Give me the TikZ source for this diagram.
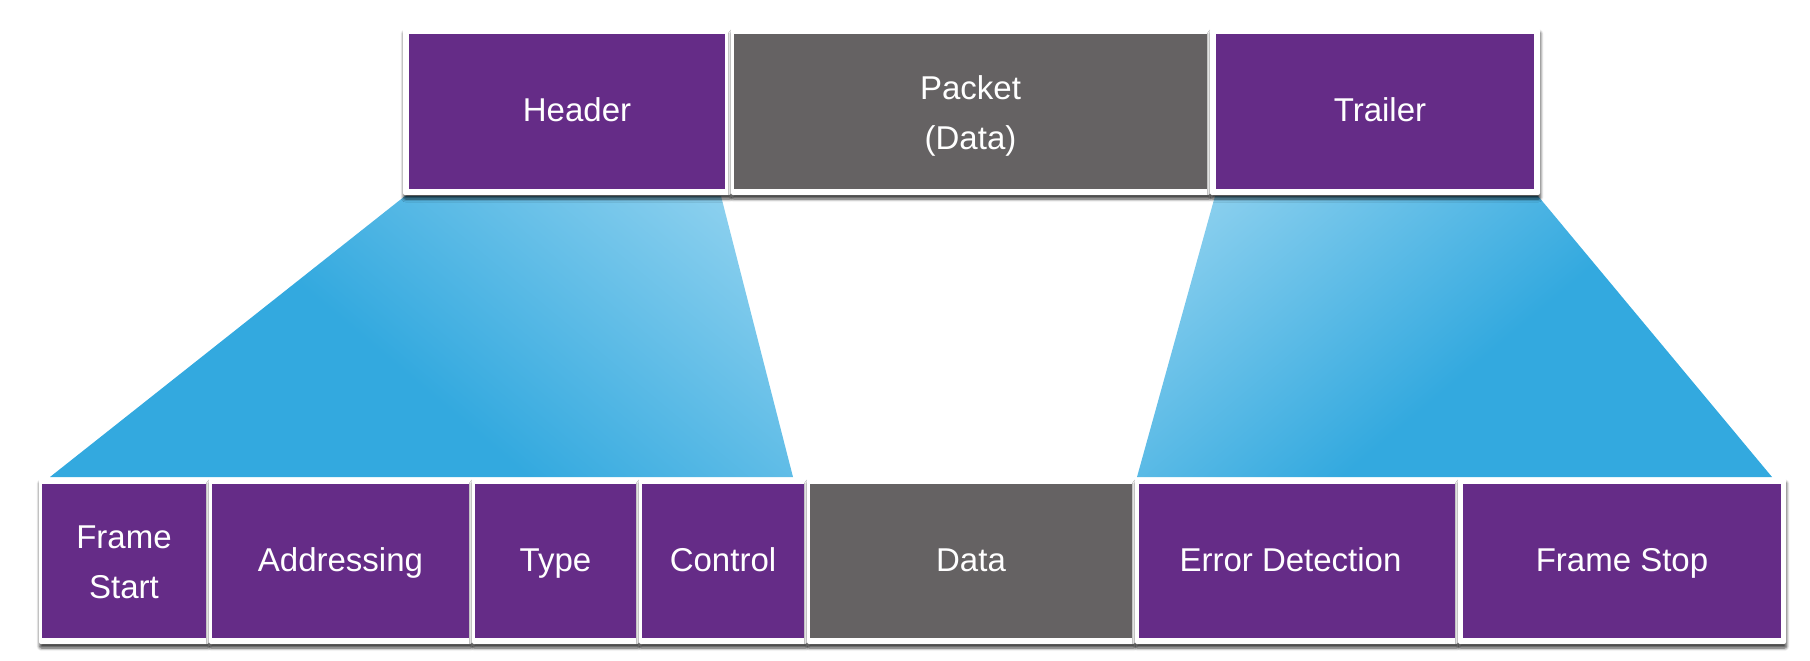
\documentclass[tikz,border=0pt]{standalone}
\usepackage{fontspec}
\setmainfont{Liberation Sans}
\usetikzlibrary{shadows,shadows.blur}
\definecolor{fpurple}{HTML}{652C87}
\definecolor{fgray}{HTML}{656263}
\definecolor{fblue}{HTML}{33A9DF}
\definecolor{flight}{HTML}{95D4F0}
\pgfdeclareverticalshading{fanshade}{100bp}{color(0bp)=(fblue); color(46bp)=(fblue); color(84bp)=(flight); color(100bp)=(flight)}
\tikzset{
  fbox/.style={fill=white, draw=none, rounded corners=2pt, inner sep=0pt,
    text=white, align=center, font=\fontsize{33}{50}\selectfont,
    execute at begin node=\strut, execute at end node=\strut,
    blur shadow={shadow xshift=0.5pt, shadow yshift=-4pt, shadow blur radius=3pt,
      shadow blur steps=6, shadow opacity=75}},
  inset/.style 2 args={path picture={\fill[#1, sharp corners]
      ([shift={(#2,-6pt)}]path picture bounding box.north west) rectangle
      ([shift={(-#2,6pt)}]path picture bounding box.south east);}},
  toprow/.style={minimum height=167pt},
  botrow/.style={minimum height=166pt},
}
\newcommand{\lowerfirst}{\rule{0pt}{40.5pt}}
\begin{document}
\begin{tikzpicture}[x=1pt,y=-1pt]
\useasboundingbox (0,0) rectangle (1810,661);
% fan-out shapes
\shade[shading=fanshade, shading angle=-40]
  (405,196) -- (721,196) -- (793,477) -- (50,477) -- cycle;
\shade[shading=fanshade, shading angle=40]
  (1215,196) -- (1538,196) -- (1772,477) -- (1137,477) -- cycle;
% top row
\node[fbox, toprow, inset={fpurple}{6pt}, minimum width=328pt] (hdr) at (567,111.5) {\hspace*{20pt}Header};
\node[fbox, toprow, inset={fgray}{3pt}, minimum width=479pt] (pkt) at (970.5,111.5) {\lowerfirst Packet\\(Data)};
\node[fbox, toprow, inset={fpurple}{6pt}, minimum width=330pt] (trl) at (1375,111.5) {\hspace*{10pt}Trailer};
% bottom row
\node[fbox, botrow, inset={fpurple}{3pt}, minimum width=170pt] (fst) at (124,561) {\lowerfirst Frame\\Start};
\node[fbox, botrow, inset={fpurple}{3pt}, minimum width=263pt] (adr) at (340.5,561) {Addressing};
\node[fbox, botrow, inset={fpurple}{3pt}, minimum width=167pt] (typ) at (555.5,561) {Type};
\node[fbox, botrow, inset={fpurple}{3pt}, minimum width=168pt] (ctl) at (723,561) {Control};
\node[fbox, botrow, inset={fgray}{3pt}, minimum width=328pt] (dat) at (971,561) {Data};
\node[fbox, botrow, inset={fpurple}{3.5pt}, minimum width=323pt] (err) at (1296.5,561) {Error Detection\hspace*{12pt}};
\node[fbox, botrow, inset={fpurple}{5pt}, minimum width=328pt] (fsp) at (1622,561) {Frame Stop};
\end{tikzpicture}
\end{document}
